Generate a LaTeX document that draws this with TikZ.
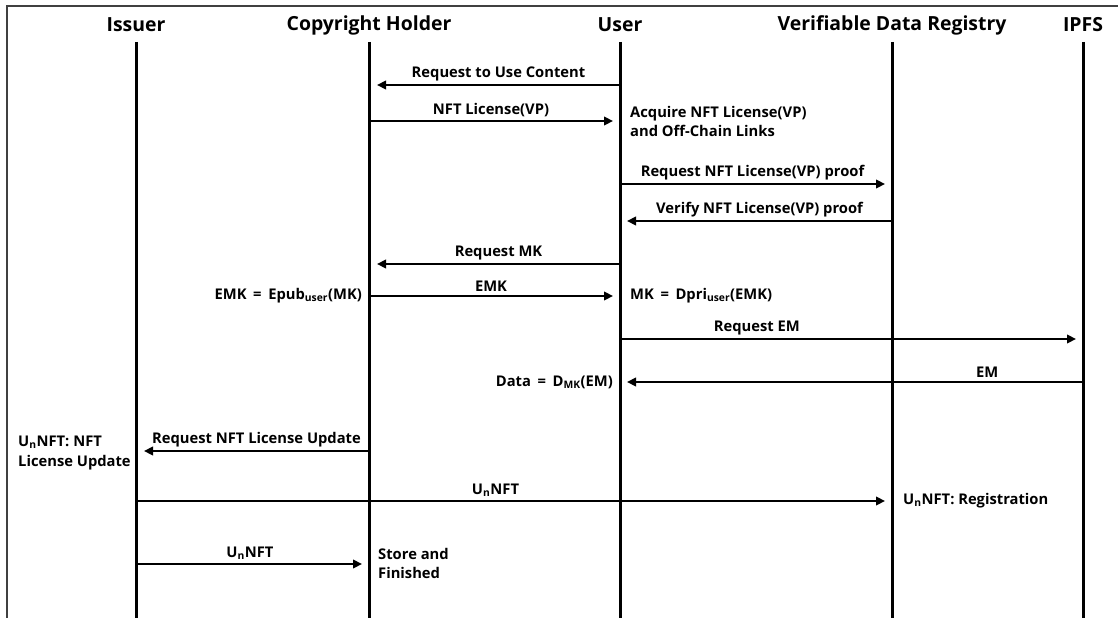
\documentclass[tikz,border=0pt]{standalone}
\usepackage{fontspec}
\setmainfont{Open Sans}
\usetikzlibrary{arrows.meta,calc}

\newcommand{\eqsp}{\hspace{0.45em}=\hspace{0.45em}}

\begin{document}
\begin{tikzpicture}[x=1bp,y=-1bp,
  head/.style={font=\fontsize{19.5}{22}\selectfont\bfseries, inner sep=0pt},
  life/.style={line width=3bp},
  msg/.style={line width=2.8bp, -{Triangle[length=9bp,width=8.5bp]}},
  lbl/.style={font=\fontsize{14.8}{17}\selectfont\bfseries, inner sep=0pt, above=3bp},
  note/.style={font=\fontsize{14.8}{19.5}\selectfont\bfseries, align=left, inner sep=0pt},
  frame/.style={line width=1.3bp, draw=black!75}]
\useasboundingbox (0,0) rectangle (1118,618);

% outer frame (left and top edges only)
\draw[frame] (7,618) -- (7,6) -- (1118,6);

% participants
\node[head] (hI) at (136,25) {Issuer};
\node[head] (hC) at (369,25) {Copyright Holder};
\node[head] (hU) at (620,25) {User};
\node[head] (hV) at (892,25) {Verifiable Data Registry};
\node[head] (hP) at (1083,25) {IPFS};

% lifelines
\foreach \n/\x in {I/136,C/369,U/620,V/892,P/1083}{
  \coordinate (t\n) at (\x,42);
  \coordinate (b\n) at (\x,618);
  \draw[life] (t\n) -- (b\n);
}

% message end points
\coordinate (m1s) at (620,85);   \coordinate (m1e) at (377,85);
\coordinate (m2s) at (369,121);  \coordinate (m2e) at (613,121);
\coordinate (m3s) at (620,184);  \coordinate (m3e) at (885,184);
\coordinate (m4s) at (892,221);  \coordinate (m4e) at (627,221);
\coordinate (m5s) at (620,264);  \coordinate (m5e) at (377,264);
\coordinate (m6s) at (369,296);  \coordinate (m6e) at (613,296);
\coordinate (m7s) at (620,339);  \coordinate (m7e) at (1076,339);
\coordinate (m8s) at (1083,382); \coordinate (m8e) at (627,382);
\coordinate (m9s) at (369,451);  \coordinate (m9e) at (144,451);
\coordinate (m10s) at (136,501); \coordinate (m10e) at (885,501);
\coordinate (m11s) at (138,564); \coordinate (m11e) at (362,564);

% messages
\draw[msg] (m1s) -- node[lbl] {Request to Use Content} (m1e);
\draw[msg] (m2s) -- node[lbl] {NFT License(VP)} (m2e);
\draw[msg] (m3s) -- node[lbl] {Request NFT License(VP) proof} (m3e);
\draw[msg] (m4s) -- node[lbl] {Verify NFT License(VP) proof} (m4e);
\draw[msg] (m5s) -- node[lbl] {Request MK} (m5e);
\draw[msg] (m6s) -- node[lbl] {EMK} (m6e);
\draw[msg] (m7s) -- node[lbl, pos=0.3] {Request EM} (m7e);
\draw[msg] (m8s) -- node[lbl, pos=0.21] {EM} (m8e);
\draw[msg] (m9s) -- node[lbl] {Request NFT License Update} (m9e);
\draw[msg] (m10s) -- node[lbl, pos=0.48] {U\textsubscript{n}NFT} (m10e);
\draw[msg] (m11s) -- node[lbl] {U\textsubscript{n}NFT} (m11e);

% local actions
\node[note, anchor=north west] (n1) at (630,106) {Acquire NFT License(VP)\\and Off-Chain Links};
\node[note, anchor=east] (n2) at (362,296) {EMK\eqsp Epub\textsubscript{user}(MK)};
\node[note, anchor=west] (n3) at (630,296) {MK\eqsp Dpri\textsubscript{user}(EMK)};
\node[note, anchor=east] (n4) at (613,382) {Data\eqsp D\textsubscript{MK}(EM)};
\node[note, anchor=north west] (n5) at (18,436) {U\textsubscript{n}NFT: NFT\\License Update};
\node[note, anchor=west] (n6) at (903,501) {U\textsubscript{n}NFT: Registration};
\node[note, anchor=north west] (n7) at (378,548) {Store and\\Finished};
\end{tikzpicture}
\end{document}
